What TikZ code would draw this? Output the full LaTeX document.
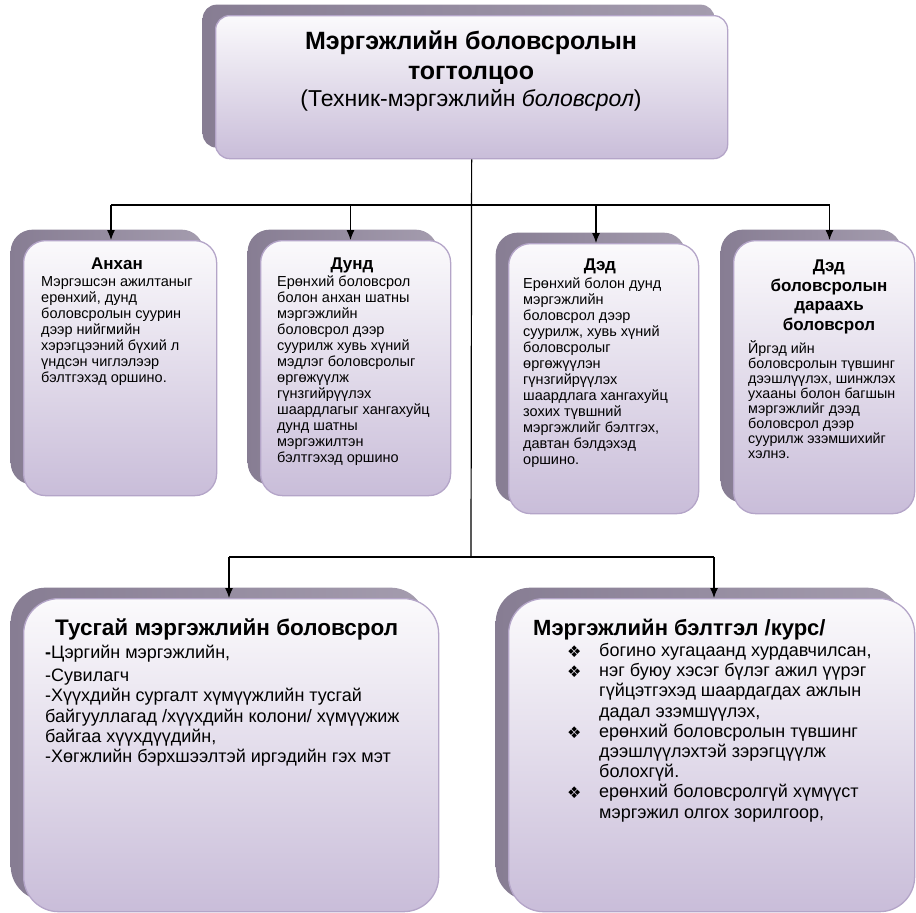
\documentclass[tikz,border=0pt]{standalone}
\usepackage{fontspec}
\setmainfont{Liberation Sans}
\newfontfamily\dejavu{DejaVu Sans}
\usetikzlibrary{arrows.meta,shadows}
\definecolor{shadowA}{HTML}{A49CAE}
\definecolor{shadowB}{HTML}{877D93}
\definecolor{boxtop}{HTML}{FBFAFC}
\definecolor{boxbot}{HTML}{C9BDD9}
\definecolor{boxline}{HTML}{B4A5C8}
\tikzset{
  card/.style={draw=boxline, line width=1.3pt, top color=boxtop, bottom color=boxbot,
    rounded corners=#1, inner sep=0pt, anchor=north west,
    general shadow={shadow xshift=-13pt, shadow yshift=11pt, left color=shadowB, right color=shadowA, draw=none}},
  card/.default=22pt,
  ttl/.style={font=\bfseries\fontsize{17}{19.5}\selectfont, align=center, anchor=north, inner sep=0pt},
  body/.style={font=\fontsize{14.5}{16}\selectfont, align=left, anchor=north west, inner sep=0pt},
  bigttl/.style={font=\bfseries\fontsize{22.5}{25}\selectfont, align=left, anchor=north west, inner sep=0pt},
  bigbody/.style={font=\fontsize{18}{20.2}\selectfont, align=left, anchor=north west, inner sep=0pt},
  conn/.style={line width=1.2pt, draw=black},
  arr/.style={conn, -{Latex[length=10pt,width=8pt]}}
}
\newcommand{\bulitem}{\makebox[32pt][l]{\raisebox{-1pt}{\dejavu\fontsize{16}{16}\selectfont ❖}}}
\newcommand{\bulgap}{\hspace*{32pt}}
\begin{document}
\begin{tikzpicture}[x=1pt,y=-1pt]
\useasboundingbox (0,0) rectangle (916,913);
% boxes
\node[card=14pt, minimum width=512pt, minimum height=143pt] (top) at (215,15) {};
\node[card, minimum width=193pt, minimum height=255pt] (b1) at (23,240) {};
\node[card, minimum width=190pt, minimum height=255pt] (b2) at (260,240) {};
\node[card, minimum width=190pt, minimum height=270pt] (b3) at (508,243) {};
\node[card, minimum width=181pt, minimum height=273pt] (b4) at (733,240) {};
\node[card=35pt, minimum width=415pt, minimum height=313pt] (b5) at (23,598) {};
\node[card=35pt, minimum width=406pt, minimum height=313pt] (b6) at (508,598) {};
% top text
\node[font=\bfseries\fontsize{25}{30}\selectfont, align=center, anchor=north, inner sep=0pt] (toptitle) at (471,31) {Мэргэжлийн боловсролын\\тогтолцоо};
\node[font=\fontsize{23}{26}\selectfont, anchor=north, inner sep=0pt] (topsub) at (471,89) {(Техник-мэргэжлийн \textit{боловсрол})};
% middle texts
\node[ttl] (b1t) at (117,258) {Анхан};
\node[body] (b1b) at (41,276) {Мэргэшсэн ажилтаныг\\ерөнхий, дунд\\боловсролын суурин\\дээр нийгмийн\\хэрэгцээний бүхий л\\үндсэн чиглэлээр\\бэлтгэхэд оршино.};
\node[ttl] (b2t) at (352,258) {Дунд};
\node[body] (b2b) at (277,276) {Ерөнхий боловсрол\\болон анхан шатны\\мэргэжлийн\\боловсрол дээр\\суурилж хувь хүний\\мэдлэг боловсролыг\\өргөжүүлж\\гүнзгийрүүлэх\\шаардлагыг хангахуйц\\дунд шатны\\мэргэжилтэн\\бэлтгэхэд оршино};
\node[ttl] (b3t) at (600,259) {Дэд};
\node[body] (b3b) at (523,278) {Ерөнхий болон дунд\\мэргэжлийн\\боловсрол дээр\\суурилж, хувь хүний\\боловсролыг\\өргөжүүлэн\\гүнзгийрүүлэх\\шаардлага хангахуйц\\зохих түвшний\\мэргэжлийг бэлтгэх,\\давтан бэлдэхэд\\оршино.};
\node[ttl] (b4t) at (829,260) {Дэд\\боловсролын\\дараахь\\боловсрол};
\node[body, font=\fontsize{14.3}{15}\selectfont] (b4b) at (748,340) {Йргэд ийн\\боловсролын түвшинг\\дээшлүүлэх, шинжлэх\\ухааны болон багшын\\мэргэжлийг дээд\\боловсрол дээр\\суурилж эзэмшихийг\\хэлнэ.};
% bottom texts
\node[bigttl] (b5t) at (55,619) {Тусгай мэргэжлийн боловсрол};
\node[bigbody] (b5b) at (45,645) {{\bfseries -}Цэргийн мэргэжлийн,\\[3pt]-Сувилагч\\-Хүүхдийн сургалт хүмүүжлийн тусгай\\байгууллагад /хүүхдийн колони/ хүмүүжиж\\байгаа хүүхдүүдийн,\\-Хөгжлийн бэрхшээлтэй иргэдийн гэх мэт};
\node[bigttl, font=\bfseries\fontsize{22}{25}\selectfont] (b6t) at (533,619) {Мэргэжлийн бэлтгэл /курс/};
\node[bigbody] (b6b) at (567,643) {\bulitem богино хугацаанд хурдавчилсан,\\\bulitem нэг буюу хэсэг бүлэг ажил үүрэг\\\bulgap гүйцэтгэхэд шаардагдах ажлын\\\bulgap дадал эзэмшүүлэх,\\\bulitem ерөнхий боловсролын түвшинг\\\bulgap дээшлүүлэхтэй зэрэгцүүлж\\\bulgap болохгүй.\\\bulitem ерөнхий боловсролгүй хүмүүст\\\bulgap мэргэжил олгох зорилгоор,};
% connectors
\coordinate (j2) at (471,557);
\coordinate (d1) at (111,205);
\coordinate (d2) at (350.5,205);
\coordinate (d3) at (596,205);
\coordinate (d4) at (829.5,205);
\coordinate (e1) at (229,557);
\coordinate (e2) at (714,557);
\draw[conn] (top.south) -- (j2);
\draw[conn] (d1) -- (d4);
\draw[conn] (e1) -- (e2);
\draw[arr] (d1) -- (d1 |- b1.north);
\draw[arr] (d2) -- (d2 |- b2.north);
\draw[arr] (d3) -- (d3 |- b3.north);
\draw[arr] (d4) -- (d4 |- b4.north);
\draw[arr] (e1) -- (e1 |- b5.north);
\draw[arr] (e2) -- (e2 |- b6.north);
\end{tikzpicture}
\end{document}
